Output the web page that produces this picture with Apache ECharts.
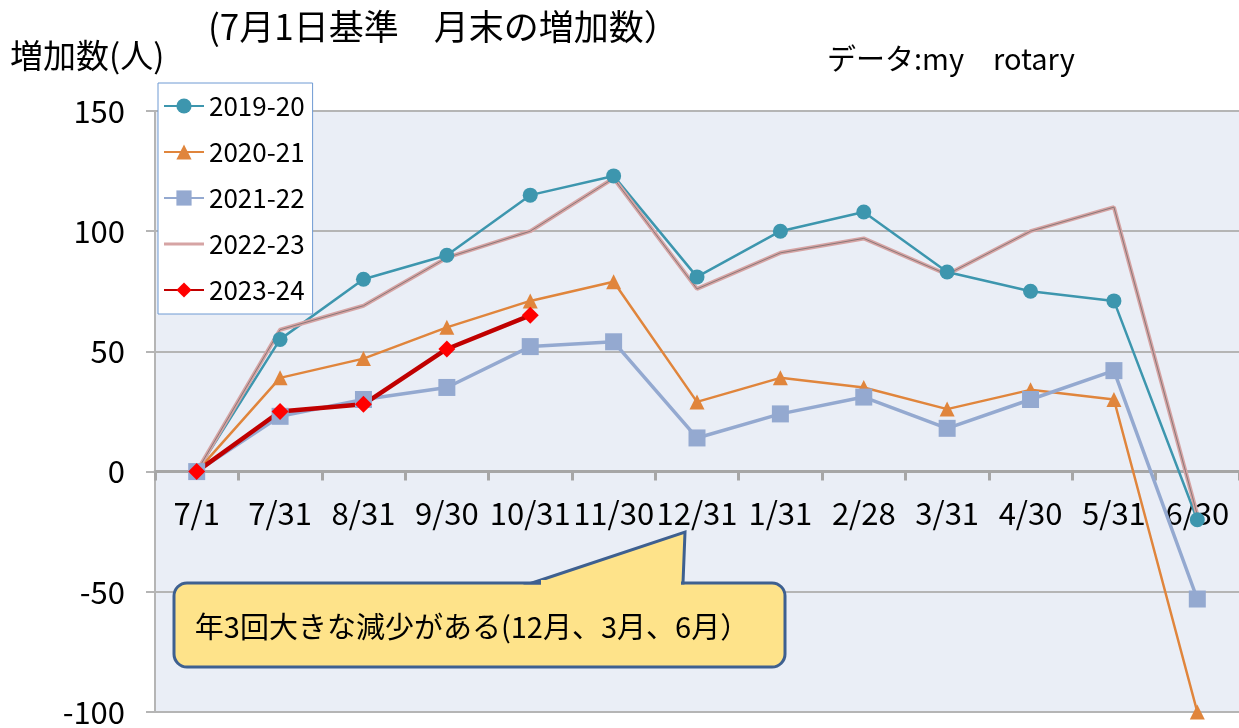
<!DOCTYPE html>
<html>
<head>
<meta charset="utf-8">
<script src="https://cdn.jsdelivr.net/npm/echarts@6/dist/echarts.min.js"></script>
<style>
  html, body { margin: 0; padding: 0; background: #fff; }
  #main { width: 1239px; height: 728px; }
</style>
</head>
<body>
<div id="main"></div>
<script>
// 月末の日付（7/1 基準）
var dates = ['7/1', '7/31', '8/31', '9/30', '10/31', '11/30', '12/31', '1/31', '2/28', '3/31', '4/30', '5/31', '6/30'];

// 年度ごとの増加数（人）
var y2019 = [0, 55, 80, 90, 115, 123, 81, 100, 108, 83, 75, 71, -20];
var y2020 = [0, 39, 47, 60, 71, 79, 29, 39, 35, 26, 34, 30, -100];
var y2021 = [0, 23, 30, 35, 52, 54, 14, 24, 31, 18, 30, 42, -53];
var y2022 = [0, 59, 69, 89, 100, 122, 76, 91, 97, 82, 100, 110, -18];
var y2023 = [0, 25, 28, 51, 65];

var seriesNames = ['2019-20', '2020-21', '2021-22', '2022-23', '2023-24'];

var Y_MIN = -100, Y_MAX = 150;
var GRID_TOP = 111, GRID_BOTTOM = 16, H = 728;

var FONT = 'Noto Sans CJK JP';
var NOTE_FILL = '#fee38a';
var NOTE_LINE = '#3e6090';

// x軸を 0 の位置に置くためのずらし量
var plotH = H - GRID_TOP - GRID_BOTTOM;
var zeroOffset = plotH * (0 - Y_MIN) / (Y_MAX - Y_MIN);

var myChart = echarts.init(document.getElementById('main'));

var option = {
  animation: false,
  textStyle: { fontFamily: FONT },
  title: [
    {
      text: '(7月1日基準　月末の増加数）',
      left: 203, top: 4,
      textStyle: { fontFamily: FONT, fontSize: 35, fontWeight: 'normal', color: '#000' }
    },
    {
      text: '増加数(人)',
      left: 5, top: 34,
      textStyle: { fontFamily: FONT, fontSize: 33, fontWeight: 'normal', color: '#000' }
    },
    {
      text: 'データ:my　rotary',
      left: 822, top: 39,
      textStyle: { fontFamily: FONT, fontSize: 29, fontWeight: 'normal', color: '#000' }
    }
  ],
  grid: {
    left: 155, right: 0, top: GRID_TOP, bottom: GRID_BOTTOM,
    containLabel: false,
    outerBoundsMode: 'none',
    show: true,
    backgroundColor: '#eaeef6',
    borderWidth: 0
  },
  legend: {
    orient: 'vertical',
    left: 158, top: 83,
    padding: [10, 8, 11, 5],
    itemGap: 20,
    itemWidth: 40,
    itemHeight: 19,
    backgroundColor: '#fff',
    borderColor: '#6f9ad3',
    borderWidth: 1,
    borderRadius: 0,
    textStyle: { fontFamily: FONT, fontSize: 26, color: '#000' },
    data: [
      '2019-20', '2020-21', '2021-22',
      { name: '2022-23', icon: 'path://M0,0 L40,0 L40,3 L0,3 Z', itemStyle: { color: '#d6a4a4' } },
      '2023-24'
    ]
  },
  xAxis: {
    type: 'category',
    data: dates,
    boundaryGap: true,
    offset: -zeroOffset,
    axisLine: { onZero: false, lineStyle: { color: '#a6a6a6', width: 3 } },
    axisTick: { show: true, length: 9, lineStyle: { color: '#a6a6a6', width: 3 } },
    axisLabel: { interval: 0, margin: 26, fontFamily: FONT, fontSize: 31, color: '#000' },
    splitLine: { show: false }
  },
  yAxis: {
    type: 'value',
    min: Y_MIN, max: Y_MAX, interval: 50,
    axisLine: { show: true, lineStyle: { color: '#b5b5b5', width: 2 } },
    axisTick: { show: true, length: 9, lineStyle: { color: '#b5b5b5', width: 2 } },
    axisLabel: { margin: 30, fontFamily: FONT, fontSize: 31, color: '#000' },
    splitLine: { lineStyle: { color: '#b5b5b5', width: 2 } }
  },
  series: [
    {
      name: '2019-20', type: 'line', data: y2019,
      symbol: 'circle', symbolSize: 15,
      itemStyle: { color: '#3d96ae' },
      lineStyle: { color: '#3d96ae', width: 2.5 }
    },
    {
      name: '2020-21', type: 'line', data: y2020,
      symbol: 'triangle', symbolSize: 15,
      itemStyle: { color: '#e0853c' },
      lineStyle: { color: '#e0853c', width: 2.5 }
    },
    {
      name: '2021-22', type: 'line', data: y2021,
      symbol: 'rect', symbolSize: 17,
      itemStyle: { color: '#94a9d0' },
      lineStyle: { color: '#94a9d0', width: 3.5 }
    },
    {
      name: '2022-23', type: 'line', data: y2022,
      symbol: 'none',
      itemStyle: { color: '#d6a4a4' },
      lineStyle: { color: '#d6a4a4', width: 4 }
    },
    {
      // 2022-23 の線の中心（濃い細線）
      name: '2022-23', type: 'line', data: y2022,
      symbol: 'none',
      itemStyle: { color: '#d6a4a4' },
      lineStyle: { color: '#8a7878', width: 1 }
    },
    {
      name: '2023-24', type: 'line', data: y2023,
      symbol: 'diamond', symbolSize: 17,
      itemStyle: { color: '#ff0000' },
      lineStyle: { color: '#c00000', width: 4.5 }
    }
  ],
  graphic: [
    // 吹き出し
    {
      type: 'rect',
      z: 100,
      shape: { x: 174, y: 583, width: 611, height: 84, r: 13 },
      style: { fill: NOTE_FILL, stroke: NOTE_LINE, lineWidth: 3 }
    },
    {
      type: 'polygon',
      z: 101,
      shape: { points: [[532, 583], [685, 532], [683, 583]] },
      style: { fill: NOTE_FILL, stroke: NOTE_LINE, lineWidth: 3, lineJoin: 'miter' }
    },
    {
      type: 'rect',
      z: 102,
      shape: { x: 541, y: 580, width: 140, height: 6 },
      style: { fill: NOTE_FILL }
    },
    {
      type: 'text',
      z: 103,
      x: 472, y: 627,
      style: {
        text: '年3回大きな減少がある(12月、3月、6月）',
        fontFamily: FONT, fontSize: 29, fill: '#000',
        align: 'center', verticalAlign: 'middle'
      }
    }
  ]
};

myChart.setOption(option);
</script>
</body>
</html>
